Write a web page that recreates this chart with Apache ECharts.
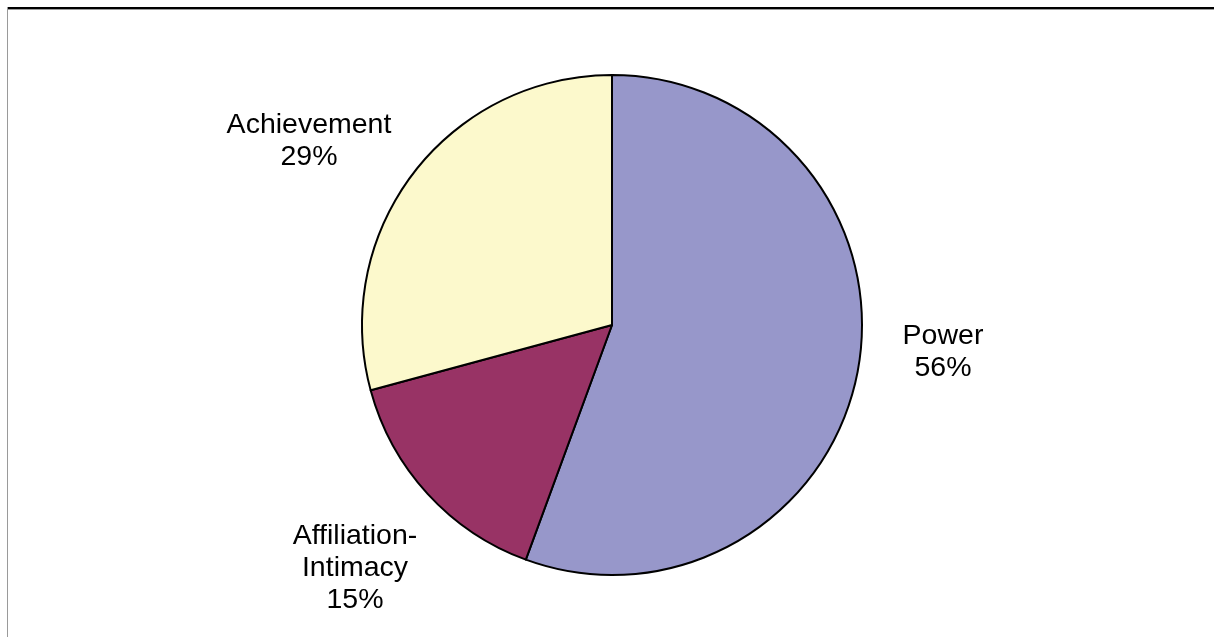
<!DOCTYPE html>
<html>
<head>
<meta charset="utf-8">
<script src="https://cdn.jsdelivr.net/npm/echarts@6/dist/echarts.min.js"></script>
<style>
html,body{margin:0;padding:0;background:#fff;}
#chart{width:1214px;height:637px;}
</style>
</head>
<body>
<div id="chart"></div>
<script>
const categories = ['Power', 'Affiliation-Intimacy', 'Achievement'];
const values = [55.6, 15.2, 29.2];
const colors = ['#9797CA', '#983365', '#FCF9CC'];
// label centres (layout only)
const labelPos = [[943, 352], [355, 568], [309, 141]];

const chart = echarts.init(document.getElementById('chart'), null, {renderer: 'canvas'});
const data = categories.map((c, i) => ({name: c, value: values[i], itemStyle: {color: colors[i]}}));
chart.setOption({
  animation: false,
  backgroundColor: '#ffffff',
  graphic: [
    {type: 'rect', shape: {x: 7, y: 7, width: 1207, height: 2}, style: {fill: '#000'}, silent: true},
    {type: 'rect', shape: {x: 7, y: 9, width: 1207, height: 1}, style: {fill: '#9a9a9a'}, silent: true},
    {type: 'rect', shape: {x: 7, y: 7, width: 1, height: 630}, style: {fill: '#9a9a9a'}, silent: true}
  ],
  series: [{
    type: 'pie',
    center: [612, 325],
    radius: 250,
    startAngle: 90,
    clockwise: true,
    data: data,
    itemStyle: {borderColor: '#000', borderWidth: 2},
    label: {
      show: true,
      position: 'outside',
      formatter: p => p.name.replace('-', '-\n') + '\n' + Math.round(p.value) + '%',
      fontFamily: '"Liberation Sans", Arial, sans-serif',
      fontSize: 28.5,
      lineHeight: 32,
      color: '#000',
      align: 'center'
    },
    labelLine: {show: false},
    labelLayout: function (params) {
      const p = labelPos[params.dataIndex];
      return {x: p[0], y: p[1], align: 'center', verticalAlign: 'middle'};
    },
    emphasis: {disabled: true}
  }]
});
</script>
</body>
</html>
